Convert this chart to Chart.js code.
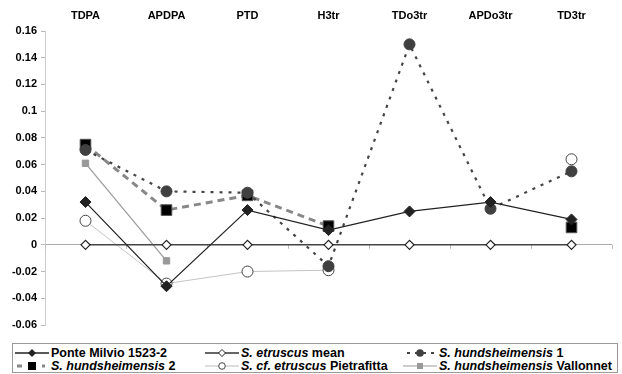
<!DOCTYPE html>
<html>
<head>
<meta charset="utf-8">
<script src="https://cdn.jsdelivr.net/npm/chart.js@4"></script>
<style>
  body { margin: 0; background: #fff; font-family: "Liberation Sans", Arial, sans-serif; }
  #wrap { position: relative; width: 622px; height: 374px; }
  #legend {
    position: absolute; left: 12px; top: 343px; width: 606px; height: 30px;
    border: 1px solid #999; box-sizing: border-box;
    font-weight: bold; font-size: 12.5px; color: #000;
  }
  .item { position: absolute; height: 14px; line-height: 14px; white-space: nowrap; }
  .item svg { position: absolute; left: 0; top: 0; }
  .item span { position: absolute; top: 0; left: 36px; }
</style>
</head>
<body>
<div id="wrap">
  <canvas id="chart" width="622" height="340"></canvas>
  <div id="legend"></div>
</div>
<script>
// categories and series
const categories = ['TDPA', 'APDPA', 'PTD', 'H3tr', 'TDo3tr', 'APDo3tr', 'TD3tr'];
const ponteMilvio = [0.032, -0.031, 0.026, 0.011, 0.025, 0.032, 0.019];
const etruscusMean = [0, 0, 0, 0, 0, 0, 0];
const hundsheimensis1 = [0.071, 0.040, 0.039, -0.016, 0.150, 0.027, 0.055];
const hundsheimensis2 = [0.075, 0.026, 0.037, 0.014, null, null, 0.013];
const pietrafitta = [0.018, -0.029, -0.020, -0.019, null, null, 0.064];
const vallonnet = [0.061, -0.012, null, null, null, null, null];
const yTicks = [-0.06, -0.04, -0.02, 0, 0.02, 0.04, 0.06, 0.08, 0.1, 0.12, 0.14, 0.16];

// little tick marks on the zero line between categories
const zeroTicks = {
  id: 'zeroTicks',
  beforeDatasetsDraw(chart) {
    const x = chart.scales.x, y = chart.scales.y;
    const band = x.width / categories.length;
    const y0 = y.getPixelForValue(0);
    const ctx = chart.ctx;
    ctx.save();
    ctx.strokeStyle = '#bbb';
    ctx.lineWidth = 1;
    for (let i = 0; i <= categories.length; i++) {
      const px = Math.round(x.left + i * band) + 0.5;
      ctx.beginPath();
      ctx.moveTo(px, y0);
      ctx.lineTo(px, y0 + 4);
      ctx.stroke();
    }
    ctx.restore();
  }
};

const ctx = document.getElementById('chart').getContext('2d');
const chart = new Chart(ctx, {
  type: 'line',
  data: {
    labels: categories,
    datasets: [
      {
        label: 'Ponte Milvio 1523-2', data: ponteMilvio,
        borderColor: '#222', borderWidth: 1.2,
        pointStyle: 'rectRot', pointRadius: 5.5,
        pointBackgroundColor: '#222', pointBorderColor: '#222', pointBorderWidth: 1
      },
      {
        label: 'S. etruscus mean', data: etruscusMean,
        borderColor: '#444', borderWidth: 1.6,
        pointStyle: 'rectRot', pointRadius: 4.5,
        pointBackgroundColor: '#fff', pointBorderColor: '#222', pointBorderWidth: 1.2
      },
      {
        label: 'S. hundsheimensis 1', data: hundsheimensis1,
        borderColor: '#444', borderWidth: 2.2, borderDash: [3, 6],
        pointStyle: 'circle', pointRadius: 5.5,
        pointBackgroundColor: '#404040', pointBorderColor: '#404040', pointBorderWidth: 1
      },
      {
        label: 'S. hundsheimensis 2', data: hundsheimensis2,
        borderColor: '#888', borderWidth: 3, borderDash: [7, 5],
        pointStyle: 'rect', pointRadius: 7.5,
        pointBackgroundColor: '#000', pointBorderColor: '#555', pointBorderWidth: 1
      },
      {
        label: 'S. cf. etruscus Pietrafitta', data: pietrafitta,
        borderColor: '#c4c4c4', borderWidth: 1,
        pointStyle: 'circle', pointRadius: 5.5,
        pointBackgroundColor: '#fff', pointBorderColor: '#444', pointBorderWidth: 1
      },
      {
        label: 'S. hundsheimensis Vallonnet', data: vallonnet,
        borderColor: '#999', borderWidth: 1.2,
        pointStyle: 'rect', pointRadius: 4.5,
        pointBackgroundColor: '#999', pointBorderColor: '#999', pointBorderWidth: 1
      }
    ]
  },
  options: {
    responsive: false,
    animation: false,
    spanGaps: false,
    layout: { padding: { left: 0, right: 10, top: 0, bottom: 15 } },
    plugins: { legend: { display: false }, tooltip: { enabled: false } },
    scales: {
      x: {
        position: 'top',
        offset: true,
        grid: { display: false, drawTicks: false },
        border: { display: false },
        ticks: {
          color: '#000', padding: 8, maxRotation: 0,
          font: { family: 'Liberation Sans', size: 11, weight: 'bold' }
        },
        afterFit(axis) { axis.height = 31; }
      },
      y: {
        min: -0.06, max: 0.16,
        afterBuildTicks(axis) { axis.ticks = yTicks.map(v => ({ value: v })); },
        afterFit(axis) { axis.width = 45; },
        grid: {
          color: c => (c.tick && c.tick.value === 0) ? '#aaa' : 'rgba(0,0,0,0)',
          tickColor: '#bbb', tickLength: 4
        },
        border: { color: '#ccc', width: 1 },
        ticks: {
          color: '#000', padding: 4,
          font: { family: 'Liberation Sans', size: 11, weight: 'bold' },
          callback: v => String(v)
        }
      }
    }
  },
  plugins: [zeroTicks]
});

// legend with italic species names
const legendItems = [
  { html: 'Ponte Milvio 1523-2', x: 2, y: 2, sample: 'diamondLine' },
  { html: '<i>S. etruscus</i> mean', x: 192, y: 2, sample: 'openDiamondLine' },
  { html: '<i>S. hundsheimensis</i> 1', x: 390, y: 2, sample: 'dotCircle' },
  { html: '<i>S. hundsheimensis</i> 2', x: 2, y: 15, sample: 'dashSquare' },
  { html: '<i>S. cf. etruscus</i> Pietrafitta', x: 192, y: 15, sample: 'openCircle' },
  { html: '<i>S. hundsheimensis</i> Vallonnet', x: 390, y: 15, sample: 'graySquare' }
];

function sampleSvg(kind) {
  let s = '<svg width="34" height="14" xmlns="http://www.w3.org/2000/svg">';
  if (kind === 'diamondLine') {
    s += '<line x1="0" y1="7" x2="34" y2="7" stroke="#222" stroke-width="1.4"/>';
    s += '<polygon points="17,3 21,7 17,11 13,7" fill="#222"/>';
  } else if (kind === 'openDiamondLine') {
    s += '<line x1="0" y1="7" x2="34" y2="7" stroke="#333" stroke-width="1.4"/>';
    s += '<polygon points="17,3.5 20.5,7 17,10.5 13.5,7" fill="#fff" stroke="#222" stroke-width="1"/>';
  } else if (kind === 'dotCircle') {
    s += '<line x1="4" y1="7" x2="34" y2="7" stroke="#444" stroke-width="2" stroke-dasharray="3,5"/>';
    s += '<circle cx="17" cy="7" r="3.8" fill="#404040"/>';
  } else if (kind === 'dashSquare') {
    s += '<line x1="2" y1="7" x2="30" y2="7" stroke="#888" stroke-width="3" stroke-dasharray="5,20"/>';
    s += '<rect x="13" y="3" width="8" height="8" fill="#000"/>';
  } else if (kind === 'openCircle') {
    s += '<line x1="0" y1="7" x2="34" y2="7" stroke="#bbb" stroke-width="1"/>';
    s += '<circle cx="17" cy="7" r="3.3" fill="#fff" stroke="#444" stroke-width="1"/>';
  } else if (kind === 'graySquare') {
    s += '<line x1="0" y1="7" x2="34" y2="7" stroke="#999" stroke-width="1.2"/>';
    s += '<rect x="14" y="4" width="6" height="6" fill="#999"/>';
  }
  return s + '</svg>';
}

const legend = document.getElementById('legend');
legendItems.forEach(item => {
  const div = document.createElement('div');
  div.className = 'item';
  div.style.left = item.x + 'px';
  div.style.top = item.y + 'px';
  div.innerHTML = sampleSvg(item.sample) + '<span>' + item.html + '</span>';
  legend.appendChild(div);
});
</script>
</body>
</html>
